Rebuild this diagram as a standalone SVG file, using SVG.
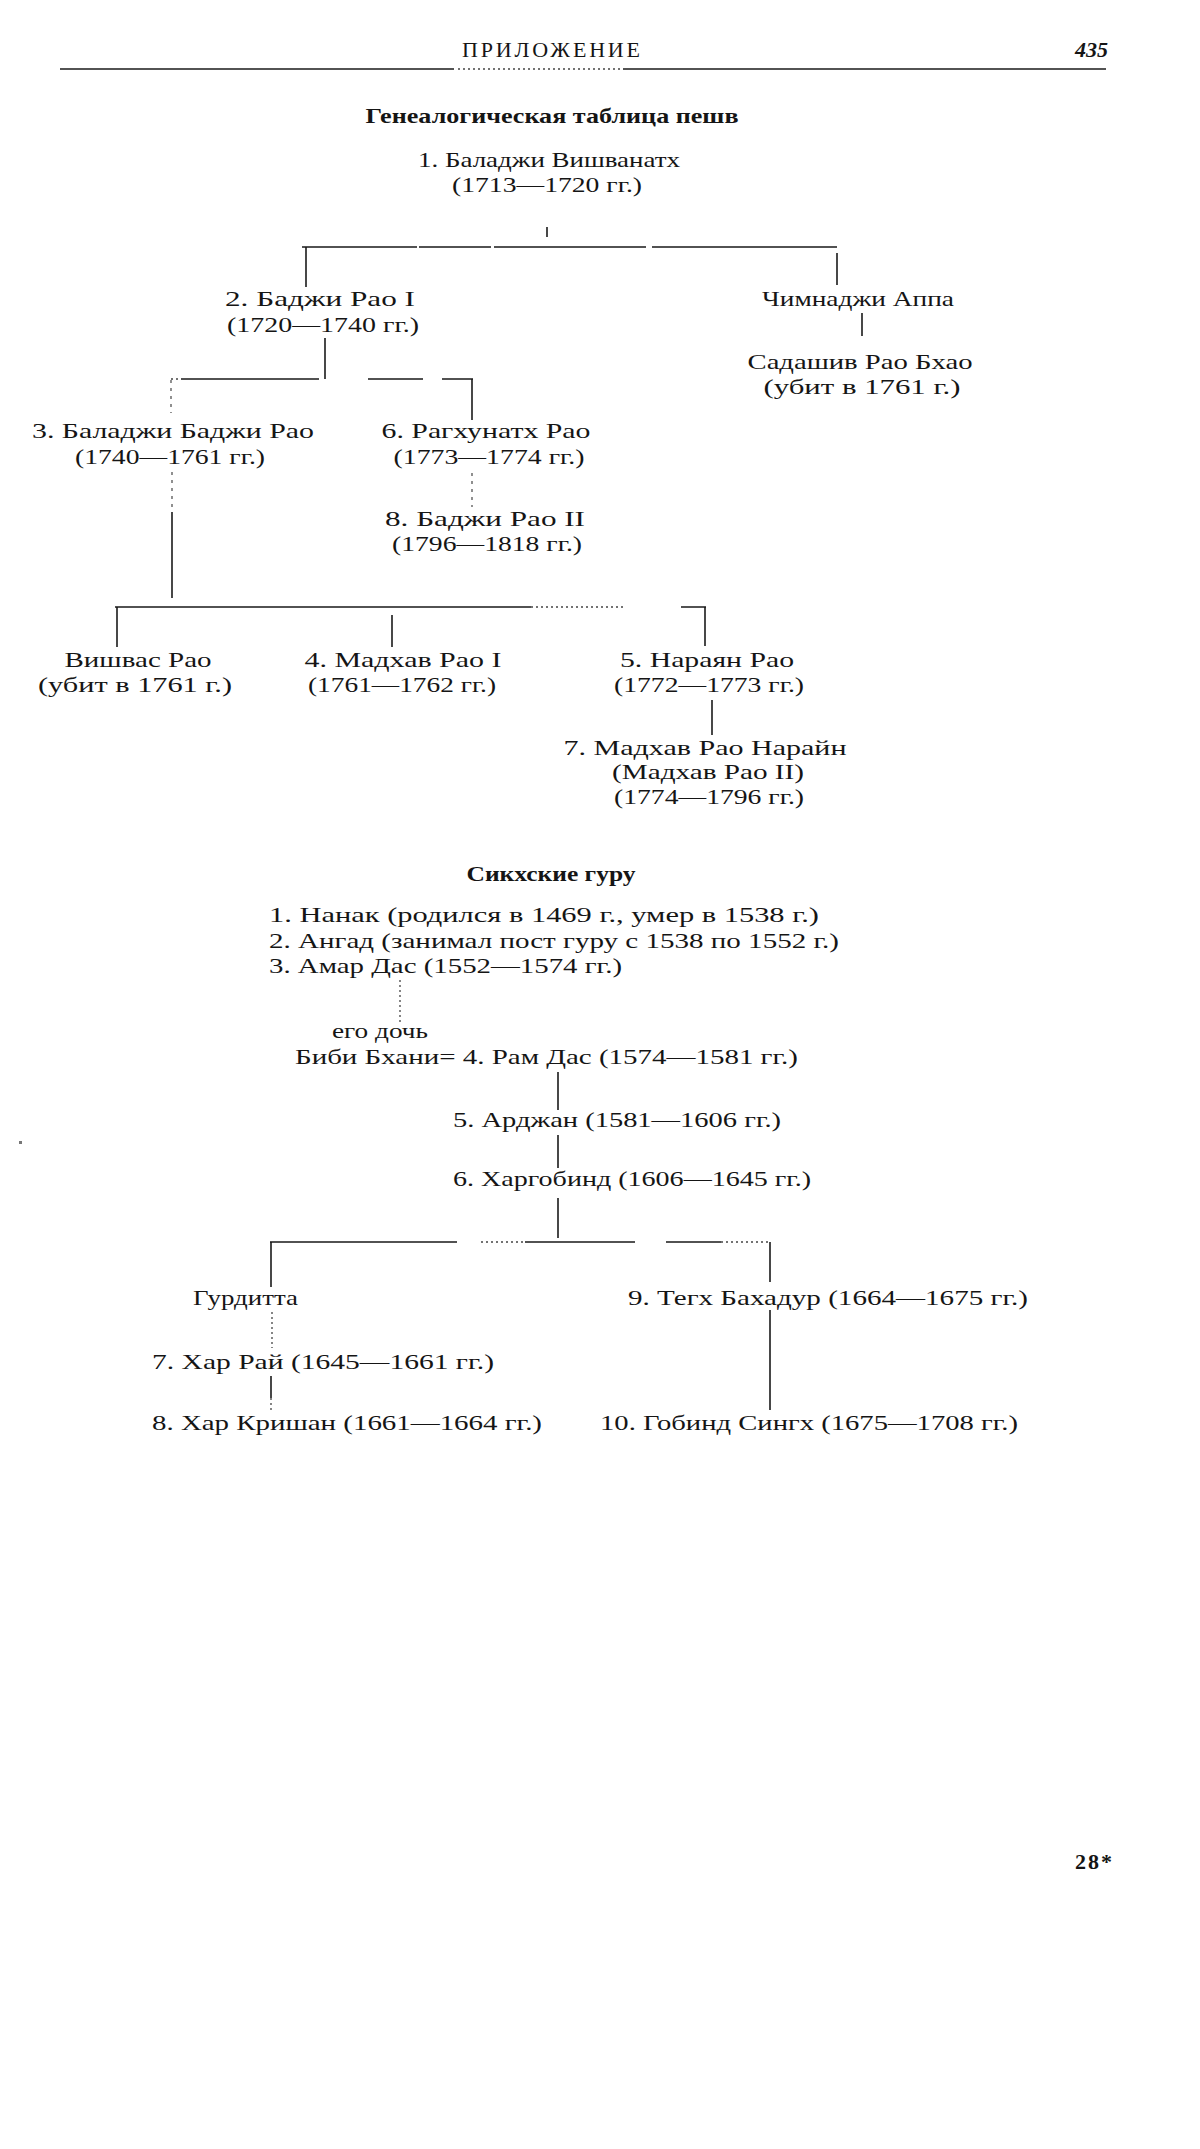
<svg xmlns="http://www.w3.org/2000/svg" width="1200" height="2149" viewBox="0 0 1200 2149">
<style>
text{font-family:"Liberation Serif","Times New Roman",serif;font-size:22px;fill:#151515}
.s{lengthAdjust:spacingAndGlyphs}
.c{text-anchor:middle}
.b{font-weight:bold}
.ln{stroke:#1a1a1a;stroke-width:1.6;fill:none}
.fa{stroke:#555;stroke-width:1.3;fill:none;stroke-dasharray:3 5}
.dt{stroke:#444;stroke-width:1.3;fill:none;stroke-dasharray:2 3}
</style>
<rect width="1200" height="2149" fill="#fff"/>
<g id="header">
<text class="c" x="551" y="57" font-size="17" textLength="178">ПРИЛОЖЕНИЕ</text>
<text x="1108" y="57" class="b" font-style="italic" font-size="22" text-anchor="end">435</text>
<line class="ln" x1="60" y1="69" x2="454" y2="69" stroke-width="2"/>
<line class="dt" x1="458" y1="69" x2="620" y2="69"/>
<line class="ln" x1="623" y1="69" x2="1106" y2="69" stroke-width="2"/>
</g>
<g id="title1"><text class="c b" x="552" y="123" font-size="21" textLength="373" lengthAdjust="spacingAndGlyphs">Генеалогическая таблица пешв</text></g>
<g id="connectors">
<line class="ln" x1="547" y1="227" x2="547" y2="237" stroke-width="1"/>
<path class="ln" d="M302 247H417M419 247H491M494 247H646M652 247H837"/>
<line class="ln" x1="306" y1="247" x2="306" y2="287"/>
<line class="ln" x1="837" y1="253" x2="837" y2="285"/>
<line class="ln" x1="862" y1="313" x2="862" y2="336"/>
<line class="ln" x1="325" y1="338" x2="325" y2="379"/>
<path class="ln" d="M181 379H319M368 379H423M442 379H473"/>
<line class="dt" x1="171" y1="379" x2="181" y2="379"/>
<line class="fa" x1="171" y1="380" x2="171" y2="413"/>
<line class="ln" x1="472" y1="379" x2="472" y2="420"/>
<line class="fa" x1="472" y1="473" x2="472" y2="507"/>
<line class="fa" x1="172" y1="472" x2="172" y2="510"/>
<line class="ln" x1="172" y1="512" x2="172" y2="598"/>
<path class="ln" d="M115 607H531M681 607H706"/>
<line class="dt" x1="531" y1="607" x2="623" y2="607"/>
<line class="ln" x1="117" y1="607" x2="117" y2="647"/>
<line class="ln" x1="392" y1="615" x2="392" y2="647"/>
<line class="ln" x1="705" y1="607" x2="705" y2="646"/>
<line class="ln" x1="712" y1="700" x2="712" y2="735"/>
<line class="dt" x1="400" y1="980" x2="400" y2="1022"/>
<line class="ln" x1="558" y1="1072" x2="558" y2="1110"/>
<line class="ln" x1="558" y1="1135" x2="558" y2="1168"/>
<line class="ln" x1="558" y1="1198" x2="558" y2="1238"/>
<path class="ln" d="M270 1242H457M525 1242H635M666 1242H721"/>
<line class="dt" x1="481" y1="1242" x2="525" y2="1242"/>
<line class="dt" x1="721" y1="1242" x2="771" y2="1242"/>
<line class="ln" x1="271" y1="1242" x2="271" y2="1287"/>
<line class="ln" x1="770" y1="1242" x2="770" y2="1282"/>
<line class="dt" x1="272" y1="1312" x2="272" y2="1348"/>
<line class="ln" x1="271" y1="1376" x2="271" y2="1398"/>
<line class="dt" x1="271" y1="1398" x2="271" y2="1412"/>
<line class="ln" x1="770" y1="1310" x2="770" y2="1410"/>
</g>
<g id="n1"><text class="c" x="549" y="167" textLength="262" lengthAdjust="spacingAndGlyphs">1. Баладжи Вишванатх</text><text class="c" x="547" y="192" textLength="190" lengthAdjust="spacingAndGlyphs">(1713—1720 гг.)</text></g>
<g id="n2"><text class="c" x="320" y="306" textLength="190" lengthAdjust="spacingAndGlyphs">2. Баджи Рао I</text><text class="c" x="323" y="332" textLength="192" lengthAdjust="spacingAndGlyphs">(1720—1740 гг.)</text></g>
<g id="chimnaji"><text class="c" x="858" y="306" textLength="192" lengthAdjust="spacingAndGlyphs">Чимнаджи Аппа</text></g>
<g id="sadashiv"><text class="c" x="860" y="369" textLength="225" lengthAdjust="spacingAndGlyphs">Садашив Рао Бхао</text><text class="c" x="862" y="394" textLength="197" lengthAdjust="spacingAndGlyphs">(убит в 1761 г.)</text></g>
<g id="n3"><text class="c" x="173" y="438" textLength="282" lengthAdjust="spacingAndGlyphs">3. Баладжи Баджи Рао</text><text class="c" x="170" y="464" textLength="190" lengthAdjust="spacingAndGlyphs">(1740—1761 гг.)</text></g>
<g id="n6"><text class="c" x="486" y="438" textLength="209" lengthAdjust="spacingAndGlyphs">6. Рагхунатх Рао</text><text class="c" x="489" y="464" textLength="191" lengthAdjust="spacingAndGlyphs">(1773—1774 гг.)</text></g>
<g id="n8"><text class="c" x="485" y="526" textLength="200" lengthAdjust="spacingAndGlyphs">8. Баджи Рао II</text><text class="c" x="487" y="551" textLength="190" lengthAdjust="spacingAndGlyphs">(1796—1818 гг.)</text></g>
<g id="vishvas"><text class="c" x="138" y="667" textLength="147" lengthAdjust="spacingAndGlyphs">Вишвас Рао</text><text class="c" x="135" y="692" textLength="194" lengthAdjust="spacingAndGlyphs">(убит в 1761 г.)</text></g>
<g id="n4"><text class="c" x="403" y="667" textLength="197" lengthAdjust="spacingAndGlyphs">4. Мадхав Рао I</text><text class="c" x="402" y="692" textLength="188" lengthAdjust="spacingAndGlyphs">(1761—1762 гг.)</text></g>
<g id="n5"><text class="c" x="707" y="667" textLength="174" lengthAdjust="spacingAndGlyphs">5. Нараян Рао</text><text class="c" x="709" y="692" textLength="190" lengthAdjust="spacingAndGlyphs">(1772—1773 гг.)</text></g>
<g id="n7"><text class="c" x="705" y="755" textLength="283" lengthAdjust="spacingAndGlyphs">7. Мадхав Рао Нарайн</text><text class="c" x="708" y="779" textLength="192" lengthAdjust="spacingAndGlyphs">(Мадхав Рао II)</text><text class="c" x="709" y="804" textLength="190" lengthAdjust="spacingAndGlyphs">(1774—1796 гг.)</text></g>
<g id="title2"><text class="c b" x="551" y="881" font-size="21" textLength="169" lengthAdjust="spacingAndGlyphs">Сикхские гуру</text></g>
<g id="g1"><text x="269" y="922" textLength="550" lengthAdjust="spacingAndGlyphs">1. Нанак (родился в 1469 г., умер в 1538 г.)</text></g>
<g id="g2"><text x="269" y="948" textLength="570" lengthAdjust="spacingAndGlyphs">2. Ангад (занимал пост гуру с 1538 по 1552 г.)</text></g>
<g id="g3"><text x="269" y="973" textLength="353" lengthAdjust="spacingAndGlyphs">3. Амар Дас (1552—1574 гг.)</text></g>
<g id="g4"><text x="332" y="1038" textLength="96" lengthAdjust="spacingAndGlyphs">его дочь</text><text x="295" y="1064" textLength="503" lengthAdjust="spacingAndGlyphs">Биби Бхани= 4. Рам Дас (1574—1581 гг.)</text></g>
<g id="g5"><text x="453" y="1127" textLength="328" lengthAdjust="spacingAndGlyphs">5. Арджан (1581—1606 гг.)</text></g>
<g id="g6"><text x="453" y="1186" textLength="358" lengthAdjust="spacingAndGlyphs">6. Харгобинд (1606—1645 гг.)</text></g>
<g id="gurditta"><text x="193" y="1305" textLength="105" lengthAdjust="spacingAndGlyphs">Гурдитта</text></g>
<g id="g9"><text x="628" y="1305" textLength="400" lengthAdjust="spacingAndGlyphs">9. Тегх Бахадур (1664—1675 гг.)</text></g>
<g id="g7"><text x="152" y="1369" textLength="342" lengthAdjust="spacingAndGlyphs">7. Хар Рай (1645—1661 гг.)</text></g>
<g id="g8"><text x="152" y="1430" textLength="390" lengthAdjust="spacingAndGlyphs">8. Хар Кришан (1661—1664 гг.)</text></g>
<g id="g10"><text x="600" y="1430" textLength="418" lengthAdjust="spacingAndGlyphs">10. Гобинд Сингх (1675—1708 гг.)</text></g>
<g id="footer"><text class="b" x="1075" y="1869" textLength="37">28*</text><rect x="19" y="1141" width="3" height="3" fill="#777"/></g>
</svg>
